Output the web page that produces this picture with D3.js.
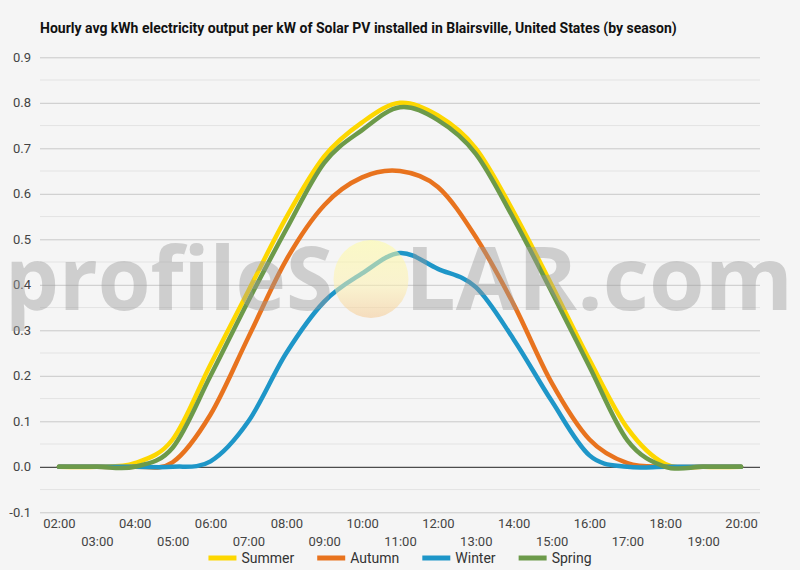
<!DOCTYPE html>
<html><head><meta charset="utf-8">
<script src="https://cdn.jsdelivr.net/npm/d3@7"></script>
<style>html,body{margin:0;padding:0;background:#f5f5f5} svg{display:block}</style>
</head><body>
<svg id="chart" width="800" height="570"></svg>
<script>
// ---- data ----
const hours = ["02:00","03:00","04:00","05:00","06:00","07:00","08:00","09:00","10:00","11:00","12:00","13:00","14:00","15:00","16:00","17:00","18:00","19:00","20:00"];
const seriesNames = ["Summer","Autumn","Winter","Spring"];
const summer = [0,0,0.008,0.06,0.225,0.387,0.548,0.682,0.757,0.80,0.772,0.70,0.56,0.40,0.235,0.085,0.006,0,0];
const autumn = [0,0,0,0.01,0.115,0.285,0.455,0.575,0.636,0.65,0.615,0.505,0.357,0.185,0.06,0.008,0,0,0];
const winter = [0,0,0,0,0.012,0.1,0.25,0.363,0.425,0.47,0.435,0.395,0.28,0.145,0.025,0,0,0,0];
const spring = [0,0,0,0.042,0.2,0.365,0.522,0.668,0.74,0.79,0.762,0.688,0.545,0.385,0.22,0.058,0,0,0];
const yTicks = [-0.1,0,0.1,0.2,0.3,0.4,0.5,0.6,0.7,0.8,0.9];
const yTickLabels = ["-0.1","0.0","0.1","0.2","0.3","0.4","0.5","0.6","0.7","0.8","0.9"];
const yMinorTicks = [-0.05,0.05,0.15,0.25,0.35,0.45,0.55,0.65,0.75,0.85];
const colors = ["#FDD700","#E8731E","#1E96C8","#6C9A4A"];
const titleText = "Hourly avg kWh electricity output per kW of Solar PV installed in Blairsville, United States (by season)";

const values = [summer, autumn, winter, spring];

(function draw() {
  const svg = d3.select("#chart");
  const W = 800, H = 570;
  const pLeft = 40, pRight = 760, pTop = 57.3, pBottom = 512.3;
  const font = "Roboto, 'Noto Sans', sans-serif";

  svg.append("rect").attr("width", W).attr("height", H).attr("fill", "#f5f5f5");

  const x = d3.scalePoint().domain(hours).range([pLeft, pRight]).padding(0.5);
  const y = d3.scaleLinear().domain([-0.1, 0.9]).range([pBottom, pTop]);

  // minor gridlines
  svg.append("g").selectAll("line").data(yMinorTicks).join("line")
    .attr("x1", pLeft).attr("x2", pRight)
    .attr("y1", d => y(d)).attr("y2", d => y(d))
    .attr("stroke", "#e3e3e3").attr("stroke-width", 1);

  // major gridlines via axis
  const yAxis = d3.axisLeft(y).tickValues(yTicks)
    .tickFormat((d, i) => yTickLabels[i]).tickSize(-(pRight - pLeft)).tickPadding(9);
  const gy = svg.append("g").attr("transform", `translate(${pLeft},0)`).call(yAxis);
  gy.select(".domain").remove();
  gy.selectAll(".tick line").attr("stroke", d => d === 0 ? "#222" : "#c9c9c9").attr("stroke-width", 1);
  gy.selectAll(".tick text").attr("font-family", font).attr("font-size", 13).attr("fill", "#444").attr("x", -9);

  // x axis labels (two staggered rows)
  const xAxis = d3.axisBottom(x).tickSize(0).tickPadding(0);
  const gx = svg.append("g").attr("transform", `translate(0,${pBottom})`).call(xAxis);
  gx.select(".domain").remove();
  gx.selectAll(".tick text")
    .attr("font-family", font).attr("font-size", 13).attr("fill", "#444")
    .attr("dy", null)
    .attr("y", (d, i) => i % 2 === 0 ? 16 : 34);

  // lines (smoothed)
  const line = d3.line().x((d, i) => x(hours[i])).y(d => y(d)).curve(d3.curveCatmullRom.alpha(0));
  svg.append("g").selectAll("path").data(values).join("path")
    .attr("d", d => line(d))
    .attr("fill", "none")
    .attr("stroke", (d, i) => colors[i])
    .attr("stroke-width", 4.5)
    .attr("stroke-linejoin", "round").attr("stroke-linecap", "round");

  // watermark
  const defs = svg.append("defs");
  const grad = defs.append("linearGradient").attr("id", "sun").attr("x1", 0).attr("y1", 0).attr("x2", 0).attr("y2", 1);
  grad.append("stop").attr("offset", "0%").attr("stop-color", "#fffca0");
  grad.append("stop").attr("offset", "60%").attr("stop-color", "#fdf0b0");
  grad.append("stop").attr("offset", "100%").attr("stop-color", "#f5c890");
  const wm = svg.append("g").attr("pointer-events", "none");
  wm.append("ellipse").attr("cx", 371).attr("cy", 279).attr("rx", 37.5).attr("ry", 39)
    .attr("fill", "url(#sun)").attr("opacity", 0.55);
  wm.append("text").attr("x", 5).attr("y", 310).text("profileS")
    .attr("font-family", "'Open Sans', sans-serif").attr("font-weight", 700).attr("font-size", 88)
    .attr("textLength", 328).attr("lengthAdjust", "spacingAndGlyphs")
    .attr("fill", "#9a9a9a").attr("opacity", 0.42);
  wm.append("text").attr("x", 405).attr("y", 310).text("LAR.com")
    .attr("font-family", "'Open Sans', sans-serif").attr("font-weight", 700).attr("font-size", 88)
    .attr("textLength", 388).attr("lengthAdjust", "spacingAndGlyphs")
    .attr("fill", "#9a9a9a").attr("opacity", 0.42);

  // title
  const title = svg.append("text").attr("x", 40).attr("y", 33).text(titleText)
    .attr("font-family", font).attr("font-weight", 700).attr("font-size", 14).attr("fill", "#111");
  const tl = title.node().getComputedTextLength();
  if (Math.abs(tl - 636) > 4) title.attr("font-size", 14 * 636 / tl);

  // legend
  const leg = svg.append("g");
  let lx = 0;
  seriesNames.forEach((name, i) => {
    const g = leg.append("g").attr("transform", `translate(${lx},0)`);
    g.append("line").attr("x1", 0).attr("x2", 28).attr("y1", 0).attr("y2", 0)
      .attr("stroke", colors[i]).attr("stroke-width", 5);
    const t = g.append("text").attr("x", 33).attr("y", 5).text(name)
      .attr("font-family", font).attr("font-size", 14).attr("fill", "#333");
    const w = t.node().getComputedTextLength();
    lx += 33 + w + 23;
  });
  const totalW = lx - 23;
  leg.attr("transform", `translate(${(W - totalW) / 2},558)`);
})();
</script>
</body></html>
